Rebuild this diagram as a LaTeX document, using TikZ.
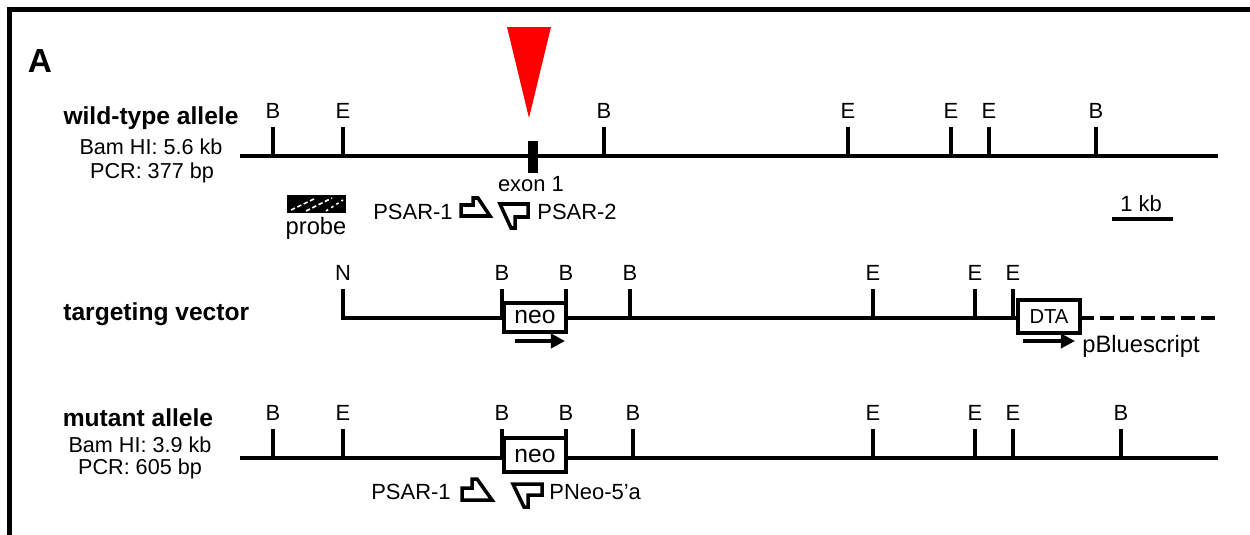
\documentclass[tikz,border=0pt]{standalone}
\usepackage{fontspec}
\setmainfont{Liberation Sans}
\usetikzlibrary{arrows.meta}
\tikzset{
  dna/.style={line width=2.1pt},
  sitetick/.style={line width=1.8pt},
  site/.style={font=\fontsize{12.5}{14}\selectfont, inner sep=0pt},
  hdr/.style={font=\bfseries\fontsize{14}{16}\selectfont, inner sep=0pt},
  sub/.style={font=\fontsize{12.3}{14}\selectfont, inner sep=0pt},
  lbl/.style={font=\fontsize{12.5}{14}\selectfont, inner sep=0pt},
  cassette/.style={draw, line width=2.1pt, fill=white},
  primer/.style={line width=2pt, line join=miter, fill=white},
  dirarrow/.style={line width=1.9pt, -{Triangle[length=8pt,width=8pt]}},
  frame/.style={line width=2.8pt}
}
\begin{document}
\begin{tikzpicture}[x=0.02cm,y=-0.02cm]
\useasboundingbox (0,0) rectangle (1250,534);
% frame
\draw[frame] (9.5,540) -- (9.5,9.5) -- (1260,9.5);
% panel letter
\node[font=\bfseries\fontsize{19}{21}\selectfont, inner sep=0pt] (panelA) at (40,61) {A};
% red arrowhead
\fill[red] (507,27) -- (551,27) -- (529,118) -- cycle;

% ---------------- wild-type allele ----------------
\node[hdr] (wthdr) at (151,118) {wild-type allele};
\node[sub] (wtbam) at (151,147) {Bam HI: 5.6 kb};
\node[sub] (wtpcr) at (152,173) {PCR: 377 bp};
\draw[dna] (240,156) -- (1218,156);
\foreach \x/\l in {273/B,343/E,604/B,848/E,951/E,989/E,1096/B}{
  \draw[sitetick] (\x,127) -- (\x,156);
  \node[site] (wt\x) at (\x,111) {\l};
}
\fill (528,141) rectangle (538,173);
\node[lbl] (exon) at (531,184) {exon 1};
% probe
\fill (287,195) rectangle (346,213);
\begin{scope}
  \clip (288,196) rectangle (345,212);
  \draw[white, line width=0.9pt, dash pattern=on 2.5pt off 1.5pt] (291,210) -- (314,199);
  \draw[white, line width=0.9pt, dash pattern=on 2.5pt off 1.5pt] (306,211) -- (332,198);
  \draw[white, line width=0.9pt, dash pattern=on 1.5pt off 2pt] (326,211) -- (343,200);
\end{scope}
\node[font=\fontsize{13.5}{15}\selectfont, inner sep=0pt] (probe) at (316,228) {probe};
% primers
\node[lbl, anchor=east] (psar1a) at (453,212) {PSAR-1};
\draw[primer] (461,216) -- (461,205) -- (473,205) -- (473,198) -- (478,198) -- (490,216) -- cycle;
\draw[primer] (528,204) -- (528,217) -- (515,217) -- (515,228) -- (511,228) -- (500,204) -- cycle;
\node[lbl, anchor=west] (psar2) at (537,212) {PSAR-2};
% scale bar
\node[lbl] (kb) at (1141,204) {1 kb};
\draw[line width=2.3pt] (1112,219) -- (1173,219);

% ---------------- targeting vector ----------------
\node[hdr, anchor=west] (tvhdr) at (63,314) {targeting vector};
\draw[dna] (343,289) -- (343,318) -- (1080,318);
\draw[dna, dash pattern=on 8pt off 3.5pt] (1080,318) -- (1218,318);
\node[site] (tvN) at (343,273) {N};
\foreach \x/\l in {502/B,566/B,630/B,873/E,975/E,1013/E}{
  \draw[sitetick] (\x,289) -- (\x,318);
  \node[site] (tv\x) at (\x,273) {\l};
}
\draw[cassette] (504,303) rectangle (566,332);
\node[font=\fontsize{14}{16}\selectfont, inner sep=0pt] (tvneo) at (535,317) {neo};
\draw[dirarrow] (515,341) -- (565,341);
\draw[cassette] (1018,300) rectangle (1080,333);
\node[font=\fontsize{11.5}{13}\selectfont, inner sep=0pt] (dta) at (1049,316.5) {DTA};
\draw[dirarrow] (1023,341) -- (1075,341);
\node[font=\fontsize{13.5}{15}\selectfont, inner sep=0pt, anchor=west] (pbs) at (1082,346) {pBluescript};

% ---------------- mutant allele ----------------
\node[hdr] (muhdr) at (138,418) {mutant allele};
\node[sub] (mubam) at (140,445) {Bam HI: 3.9 kb};
\node[sub] (mupcr) at (140,469) {PCR: 605 bp};
\draw[dna] (240,458) -- (1218,458);
\foreach \x/\l in {273/B,343/E,502/B,566/B,633/B,873/E,975/E,1013/E,1121/B}{
  \draw[sitetick] (\x,429) -- (\x,458);
  \node[site] (mu\x) at (\x,413) {\l};
}
\draw[cassette] (504,438) rectangle (566,472);
\node[font=\fontsize{14}{16}\selectfont, inner sep=0pt] (muneo) at (535,456) {neo};
\node[lbl, anchor=east] (psar1b) at (451,492) {PSAR-1};
\draw[primer] (462,500) -- (462,488) -- (472,488) -- (472,479) -- (477,479) -- (492,500) -- cycle;
\draw[primer] (542,484) -- (542,495) -- (528,495) -- (528,507) -- (524,507) -- (513,484) -- cycle;
\node[lbl, anchor=west] (pneo) at (549,492) {PNeo-5'a};
\end{tikzpicture}
\end{document}
